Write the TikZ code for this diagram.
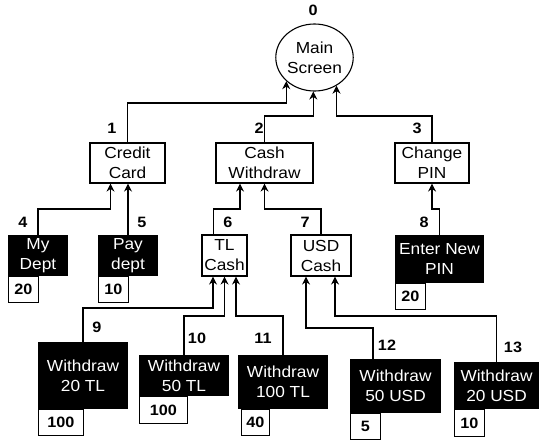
\documentclass[tikz,border=0pt]{standalone}
\usepackage{fontspec}
\setmainfont{Liberation Sans}[FakeStretch=1.08]
\usetikzlibrary{arrows.meta,positioning,shapes.geometric}

\begin{document}
\begin{tikzpicture}[x=1pt,y=-1pt,
    screen/.style={ellipse,draw,line width=1.1pt,minimum width=75pt,minimum height=67pt,inner sep=0pt,align=center},
    menu/.style={draw,line width=1.1pt,fill=white,align=center,inner sep=0pt,minimum height=40pt},
    action/.style={fill=black,text=white,align=center,inner sep=0pt,minimum width=90pt},
    count/.style={draw,line width=1.1pt,fill=white,inner sep=0pt,minimum width=30pt,minimum height=26pt,font=\fontsize{15}{18}\bfseries},
    num/.style={font=\fontsize{15}{18}\bfseries},
    link/.style={-{Stealth[length=8pt,width=8pt]},line width=1.1pt},
    font=\fontsize{16}{20}\selectfont]
    \useasboundingbox (0,0) rectangle (540,440);
    % screens
    \node[screen] (s_0) at (314.5,57.5) {Main\\Screen};
    \node[menu,minimum width=75pt] (s_1) at (127.5,163) {Credit\\Card};
    \node[menu,minimum width=97pt] (s_2) at (264.5,163) {Cash\\Withdraw};
    \node[menu,minimum width=74pt] (s_3) at (432,163) {Change\\PIN};
    \node[action,minimum width=60pt,minimum height=41pt] (s_4) at (38,255.5) {My\\Dept};
    \node[action,minimum width=60pt,minimum height=41pt] (s_5) at (128,255.5) {Pay\\dept};
    \node[menu,minimum width=45pt,minimum height=41pt] (s_6) at (224.5,255.5) {TL\\Cash};
    \node[menu,minimum width=60pt,minimum height=41pt] (s_7) at (321,255.5) {USD\\Cash};
    \node[action,minimum width=89pt,minimum height=48pt] (s_8) at (439.5,259) {Enter New\\PIN};
    \node[action,minimum height=67pt] (s_9) at (83,375.5) {Withdraw\\20 TL};
    \node[action,minimum height=41pt] (s_10) at (184,375.5) {Withdraw\\50 TL};
    \node[action,minimum height=54pt] (s_11) at (283,382) {Withdraw\\100 TL};
    \node[action,minimum width=91pt,minimum height=54pt] (s_12) at (395.5,386) {Withdraw\\50 USD};
    \node[action,minimum width=85pt,minimum height=47pt] (s_13) at (496.5,385.5) {Withdraw\\20 USD};
    % counts
    \node[count,below right=0pt and 0pt of s_4.south west] (c_4) {20};
    \node[count,below right=0pt and 0pt of s_5.south west] (c_5) {10};
    \node[count,below right=0pt and 0pt of s_8.south west] (c_8) {20};
    \node[count,minimum width=45pt,below right=0pt and 0pt of s_9.south west] (c_9) {100};
    \node[count,minimum width=48pt,minimum height=27pt,below right=0pt and 0pt of s_10.south west] (c_10) {100};
    \node[count,minimum width=28pt,below right=0pt and 3pt of s_11.south west] (c_11) {40};
    \node[count,below right=0pt and 0pt of s_12.south west] (c_12) {5};
    \node[count,minimum height=27pt,below right=0pt and 0pt of s_13.south west] (c_13) {10};
    % numbers
    \node[num] (n_0) at (313,10) {0};
    \node[num] (n_1) at (112,128) {1};
    \node[num] (n_2) at (259,128) {2};
    \node[num] (n_3) at (417,128) {3};
    \node[num] (n_4) at (23,222) {4};
    \node[num] (n_5) at (142,222) {5};
    \node[num] (n_6) at (228,222) {6};
    \node[num] (n_7) at (305,222) {7};
    \node[num] (n_8) at (424,222) {8};
    \node[num] (n_9) at (97,327) {9};
    \node[num] (n_10) at (197,338) {10};
    \node[num] (n_11) at (263,338) {11};
    \node[num] (n_12) at (387,345) {12};
    \node[num] (n_13) at (513,347) {13};
    % links
    \draw[link] (s_1.north) -- (s_1.north |- 0,103) -| (s_0.220);
    \draw[link] (s_2.north) -- (s_2.north |- 0,116) -| (s_0.268);
    \draw[link] (s_3.north) -- (s_3.north |- 0,116) -| (s_0.308);
    \draw[link] (s_4.north) -- (s_4.north |- 0,209) -| ([xshift=-17pt]s_1.south);
    \draw[link] (s_5.north) -- (s_5.north |- s_1.south);
    \draw[link] ([xshift=-11pt]s_6.north) -- ([xshift=-11pt]s_6.north |- 0,209) -| ([xshift=-24.5pt]s_2.south);
    \draw[link] (s_7.north) -- (s_7.north |- 0,209) -| (s_2.south);
    \draw[link] (s_8.north) -- (s_8.north |- 0,209) -| (s_3.south);
    \draw[link] (s_9.north) -- (s_9.north |- 0,308) -| ([xshift=-11.5pt]s_6.south);
    \draw[link] (s_10.north) -- (s_10.north |- 0,316) -| (s_6.south);
    \draw[link] (s_11.north) -- (s_11.north |- 0,316) -| ([xshift=11.5pt]s_6.south);
    \draw[link] ([xshift=-22.5pt]s_12.north) -- ([xshift=-22.5pt]s_12.north |- 0,328) -| ([xshift=-15pt]s_7.south);
    \draw[link] (s_13.north) -- (s_13.north |- 0,316) -| ([xshift=14pt]s_7.south);
\end{tikzpicture}
\end{document}
